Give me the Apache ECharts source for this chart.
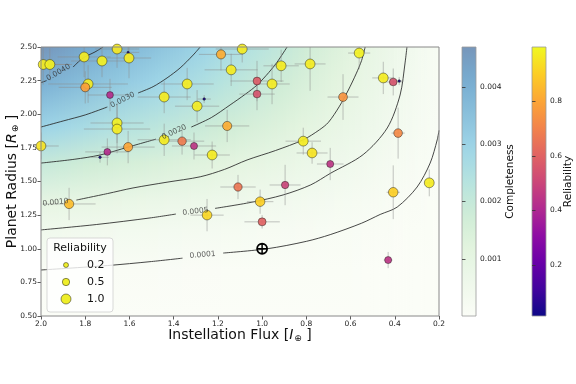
<!DOCTYPE html>
<html><head><meta charset="utf-8">
<script src="https://cdn.jsdelivr.net/npm/echarts@6/dist/echarts.min.js"></script>
<style>html,body{margin:0;padding:0;background:#fff}#c{width:576px;height:384px}</style>
</head><body><div id="c"></div>
<script>
// ---- planet data ----
const flux = [1.99,1.96,1.805,1.724,1.656,1.606,1.602,1.787,1.80,1.688,1.656,1.656,2.0,1.606,1.70,1.733,1.443,1.443,1.362,1.308,1.339,1.294,1.186,1.09,1.14,1.262,1.023,1.023,0.955,0.914,0.783,0.561,0.452,0.407,0.38,0.634,1.158,1.226,0.814,0.774,0.692,0.385,1.109,0.896,1.009,1.249,1.0,0.407,0.244,0.43,1.873];
const radius = [2.37,2.37,2.426,2.396,2.485,2.46,2.418,2.225,2.20,2.143,1.935,1.89,1.764,1.756,1.72,1.68,2.128,1.81,1.80,1.764,2.225,2.06,2.445,2.485,2.33,2.113,2.247,2.15,2.225,2.36,2.374,2.455,2.27,2.24,2.247,2.128,1.913,1.697,1.80,1.712,1.63,1.86,1.459,1.474,1.35,1.25,1.20,1.42,1.49,0.916,1.333];
const reliability = [0.97,0.98,0.97,0.98,0.96,0.02,0.97,0.97,0.78,0.42,0.98,0.97,0.95,0.80,0.42,0.03,0.97,0.97,0.68,0.45,0.97,0.97,0.82,0.97,0.97,0.03,0.58,0.55,0.97,0.97,0.97,0.98,0.97,0.55,0.03,0.75,0.82,0.97,0.97,0.95,0.45,0.72,0.66,0.50,0.90,0.92,0.60,0.90,0.97,0.45,0.86];
const fluxErr = [0.12,0.10,0.12,0.14,0.10,0.05,0.10,0.18,0.12,0.10,0.12,0.15,0.08,0.12,0.10,0.04,0.12,0.12,0.10,0.10,0.12,0.10,0.10,0.12,0.12,0.03,0.12,0.08,0.08,0.08,0.07,0.05,0.05,0.04,0.02,0.07,0.10,0.08,0.08,0.07,0.06,0.03,0.08,0.07,0.06,0.075,0.08,0.03,0.02,0.02,0.12];
const radiusErr = [0.15,0.12,0.15,0.12,0.14,0.04,0.15,0.14,0.12,0.12,0.15,0.18,0.10,0.12,0.10,0.04,0.12,0.12,0.10,0.10,0.12,0.12,0.12,0.10,0.12,0.03,0.15,0.12,0.15,0.12,0.20,0.12,0.12,0.10,0.03,0.17,0.12,0.10,0.10,0.08,0.12,0.19,0.09,0.15,0.09,0.12,0.05,0.20,0.10,0.06,0.12];
const earthPos = [[1.0, 1.0]];

// ---- completeness contours (flux, radius), split where the label sits ----
const contour0001 = [[[2.0,0.842],[1.70,0.875],[1.50,0.905],[1.36,0.93]],
  [[1.176,0.968],[0.977,1.0],[0.80,1.055],[0.692,1.105],[0.55,1.19],[0.466,1.255],[0.389,1.31],[0.299,1.459],[0.24,1.637],[0.208,1.81],[0.2,1.88]]];
const contour0005 = [[[2.0,1.14],[1.75,1.18],[1.507,1.229],[1.39,1.258]],
  [[1.213,1.30],[1.05,1.345],[0.905,1.40],[0.78,1.475],[0.692,1.56],[0.543,1.70],[0.434,1.898],[0.376,2.143],[0.353,2.388],[0.345,2.5]]];
const contour0010 = [[[1.84,1.362],[1.70,1.41],[1.584,1.452],[1.43,1.495],[1.28,1.535],[1.17,1.59],[1.068,1.66],[0.94,1.73],[0.814,1.81],[0.74,1.885],[0.70,1.94],[0.65,2.06],[0.61,2.18],[0.575,2.30],[0.55,2.40],[0.534,2.5]]];
const contour0020 = [[[2.0,1.637],[1.85,1.665],[1.733,1.697],[1.606,1.756],[1.48,1.815]],
  [[1.32,1.905],[1.23,1.975],[1.145,2.069],[1.075,2.15],[1.023,2.217],[0.97,2.31],[0.932,2.388],[0.887,2.5]]];
const contour0030 = [[[2.0,1.905],[1.90,1.95],[1.80,1.995],[1.70,2.054]],
  [[1.561,2.158],[1.493,2.205],[1.43,2.27],[1.371,2.344],[1.312,2.44],[1.28,2.5]]];
const contour0040 = [[[2.0,2.235],[1.975,2.25]],
  [[1.855,2.351],[1.81,2.418],[1.756,2.463],[1.719,2.5]]];
const contourLabelText = ['0.0001','0.0005','0.0010','0.0020','0.0030','0.0040'];
const contourLabelPos = [[1.269,0.954],[1.301,1.277],[1.934,1.344],[1.398,1.868],[1.631,2.106],[1.921,2.31]];
const contourLabelAngle = [5,7,6,24,27,30];

// ---- completeness field read along the plot edges (for background shading) ----
const bgLeftRadius = [2.5,2.235,1.905,1.637,1.345,1.14,0.842,0.5];
const bgLeftLevels = [0.0047,0.0040,0.0030,0.0020,0.0010,0.0005,0.0001,0.0];
const bgTopFlux = [2.0,1.719,1.28,0.887,0.534,0.345,0.2];
const bgTopLevels = [0.0047,0.0040,0.0030,0.0020,0.0010,0.0005,0.00016];

// ---- tick labels ----
const xTickValues = [2.0,1.8,1.6,1.4,1.2,1.0,0.8,0.6,0.4,0.2];
const yTickValues = [0.5,0.75,1.0,1.25,1.5,1.75,2.0,2.25,2.5];
const complTicks = [0.001,0.002,0.003,0.004];
const relTicks = [0.2,0.4,0.6,0.8];
const legendSizes = [0.2,0.5,1.0];
const complMax = 0.0047, relMin = 0.012, relMax = 1.0;

const FONT = 'DejaVu Sans';
const plasma = ['#0d0887','#41049d','#6a00a8','#8f0da4','#b12a90','#cc4778','#e16462','#f2844b','#fca636','#fcce25','#f0f921'];
const gnbu = [[251,253,247],[238,248,235],[227,244,223],[207,236,214],[182,227,223],[158,213,231],[138,192,219],[119,172,209],[119,150,186]];
function gnbuColor(t){
  t=Math.max(0,Math.min(1,t));const s=t*(gnbu.length-1);const i=Math.min(gnbu.length-2,Math.floor(s));const u=s-i;
  const a=gnbu[i],b=gnbu[i+1];
  return 'rgb('+Math.round(a[0]+(b[0]-a[0])*u)+','+Math.round(a[1]+(b[1]-a[1])*u)+','+Math.round(a[2]+(b[2]-a[2])*u)+')';
}
function sizeOf(rel){return 9*Math.sqrt(rel)+1;}

const chart = echarts.init(document.getElementById('c'), null, {renderer:'canvas'});

function contourSeries(segs){
  return segs.map(seg=>({type:'line',xAxisIndex:0,yAxisIndex:0,data:seg,smooth:0.3,showSymbol:false,
    lineStyle:{color:'rgba(40,40,40,0.85)',width:1},z:2,silent:true,animation:false,clip:true}));
}
const series = [].concat(
  contourSeries(contour0001),contourSeries(contour0005),contourSeries(contour0010),
  contourSeries(contour0020),contourSeries(contour0030),contourSeries(contour0040),
  [{
    type:'scatter',xAxisIndex:0,yAxisIndex:0,symbolSize:0,z:4,silent:true,animation:false,
    data:contourLabelPos.map((p,i)=>({value:p,label:{show:true,formatter:contourLabelText[i],rotate:contourLabelAngle[i],
      position:'inside',fontSize:7.5,fontFamily:FONT,color:'#333'}}))
  },{
    type:'custom',xAxisIndex:0,yAxisIndex:0,z:3,clip:true,silent:true,animation:false,
    data:flux.map((f,i)=>[f,radius[i],fluxErr[i],radiusErr[i]]),
    renderItem:function(params,api){
      const f=api.value(0),r=api.value(1),ex=api.value(2),ey=api.value(3);
      const a=api.coord([f+ex,r]),b=api.coord([f-ex,r]),c=api.coord([f,r-ey]),d=api.coord([f,r+ey]);
      const st={stroke:'rgba(140,140,140,0.5)',lineWidth:1};
      return {type:'group',children:[
        {type:'line',shape:{x1:a[0],y1:a[1],x2:b[0],y2:b[1]},style:st},
        {type:'line',shape:{x1:c[0],y1:c[1],x2:d[0],y2:d[1]},style:st}]};
    }
  },{
    id:'pts',type:'scatter',xAxisIndex:0,yAxisIndex:0,z:4,animation:false,
    data:flux.map((f,i)=>[f,radius[i],reliability[i]]),
    symbolSize:function(v){return sizeOf(v[2]);},
    itemStyle:{opacity:0.92,borderColor:'rgba(20,20,20,0.8)',borderWidth:0.6}
  },{
    type:'custom',xAxisIndex:0,yAxisIndex:0,z:5,silent:true,animation:false,data:earthPos,
    renderItem:function(params,api){
      const p=api.coord([api.value(0),api.value(1)]);const R=5;
      const st={stroke:'#000',lineWidth:1.8,fill:null};
      return {type:'group',children:[
        {type:'circle',shape:{cx:p[0],cy:p[1],r:R},style:st},
        {type:'line',shape:{x1:p[0]-R,y1:p[1],x2:p[0]+R,y2:p[1]},style:{stroke:'#000',lineWidth:1.5}},
        {type:'line',shape:{x1:p[0],y1:p[1]-R,x2:p[0],y2:p[1]+R},style:{stroke:'#000',lineWidth:1.5}}]};
    }
  }]
);

function barGradient(stops){return {type:'linear',x:0,y:0,x2:0,y2:1,colorStops:stops};}
const complStops=[];for(let i=0;i<=20;i++){complStops.push({offset:1-i/20,color:gnbuColor(i/20)});}
const relStops=plasma.map((c,i)=>({offset:1-i/(plasma.length-1),color:c}));

const tickStyle={lineStyle:{color:'#333',width:0.8},length:3.5};
const richName={a:{fontSize:14,color:'#111',fontFamily:FONT},i:{fontSize:14,color:'#111',fontStyle:'italic',fontFamily:FONT},s:{fontSize:9,color:'#111',fontFamily:FONT,padding:[6,0,0,1]}};
chart.setOption({
  animation:false,
  textStyle:{fontFamily:FONT},
  grid:[
    {left:41,top:47,width:398,height:269,show:false,containLabel:false,outerBoundsMode:'none'},
    {left:462,top:47,width:14,height:269,show:true,backgroundColor:barGradient(complStops),borderColor:'#999',borderWidth:0.8,containLabel:false,outerBoundsMode:'none'},
    {left:532,top:47,width:14,height:269,show:true,backgroundColor:barGradient(relStops),borderColor:'#999',borderWidth:0.8,containLabel:false,outerBoundsMode:'none'}
  ],
  xAxis:[
    {type:'value',gridIndex:0,min:0.2,max:2.0,inverse:true,interval:0.2,
     axisLine:{show:false},splitLine:{show:false},
     axisTick:Object.assign({customValues:xTickValues},tickStyle),
     axisLabel:{customValues:xTickValues,formatter:v=>v.toFixed(1),fontSize:7.5,color:'#222',margin:4},
     name:'{a|Instellation Flux [}{i|I}{s|⊕}{a| ]}',nameLocation:'middle',nameGap:12,nameMoveOverlap:false,
     nameTextStyle:{rich:richName}},
    {type:'value',gridIndex:1,show:false,min:0,max:1},
    {type:'value',gridIndex:2,show:false,min:0,max:1}
  ],
  yAxis:[
    {type:'value',gridIndex:0,min:0.5,max:2.5,interval:0.25,
     axisLine:{show:false},splitLine:{show:false},
     axisTick:Object.assign({customValues:yTickValues},tickStyle),
     axisLabel:{customValues:yTickValues,formatter:v=>v.toFixed(2),fontSize:7.5,color:'#222',margin:4},
     name:'{a|Planet Radius [}{i|R}{s|⊕}{a| ]}',nameLocation:'middle',nameGap:21,nameRotate:90,nameMoveOverlap:false,
     nameTextStyle:{rich:richName}},
    {type:'value',gridIndex:1,position:'right',min:0,max:complMax,
     axisLine:{show:false},splitLine:{show:false},
     axisTick:Object.assign({customValues:complTicks},tickStyle),
     axisLabel:{customValues:complTicks,formatter:v=>v.toFixed(3),fontSize:7.5,color:'#222',margin:4},
     name:'Completeness',nameLocation:'middle',nameGap:29,nameRotate:90,nameMoveOverlap:false,nameTextStyle:{fontSize:10.5,color:'#111'}},
    {type:'value',gridIndex:2,position:'right',min:relMin,max:relMax,
     axisLine:{show:false},splitLine:{show:false},
     axisTick:Object.assign({customValues:relTicks},tickStyle),
     axisLabel:{customValues:relTicks,formatter:v=>v.toFixed(1),fontSize:7.5,color:'#222',margin:4},
     name:'Reliability',nameLocation:'middle',nameGap:17,nameRotate:90,nameMoveOverlap:false,nameTextStyle:{fontSize:10.5,color:'#111'}}
  ],
  visualMap:[{type:'continuous',show:false,seriesId:'pts',dimension:2,min:relMin,max:relMax,inRange:{color:plasma}}],
  series:series
});

// ---- background shading, frame and size legend ----
function interp(xs,ys,x){
  for(let i=0;i<xs.length-1;i++){const a=xs[i],b=xs[i+1];
    if((x<=a&&x>=b)||(x>=a&&x<=b)){const t=(x-a)/(b-a);return ys[i]+(ys[i+1]-ys[i])*t;}}
  return ys[ys.length-1];
}
const tl=chart.convertToPixel({gridIndex:0},[2.0,2.5]);
const br=chart.convertToPixel({gridIndex:0},[0.2,0.5]);
const gx=tl[0],gy=tl[1],gw=br[0]-tl[0],gh=br[1]-tl[1];
const offs=bgLeftRadius.map(r=>(chart.convertToPixel({gridIndex:0},[1,r])[1]-gy)/gh);
const graphics=[];
const N=133;
for(let k=0;k<N;k++){
  const x0=gx+gw*k/N,x1=gx+gw*(k+1)/N;
  const f=chart.convertFromPixel({gridIndex:0},[(x0+x1)/2,gy])[0];
  const h=interp(bgTopFlux,bgTopLevels,f)/bgTopLevels[0];
  const stops=bgLeftLevels.map((lv,j)=>({offset:Math.max(0,Math.min(1,offs[j])),color:gnbuColor(lv*h/complMax)}));
  graphics.push({type:'rect',z:0,silent:true,shape:{x:x0,y:gy,width:Math.min(x1-x0+0.8,gx+gw-x0),height:gh},
    style:{fill:{type:'linear',x:0,y:0,x2:0,y2:1,colorStops:stops},stroke:null}});
}
graphics.push({type:'rect',z:10,silent:true,shape:{x:gx,y:gy,width:gw,height:gh},style:{fill:null,stroke:'#888',lineWidth:1}});
// legend
graphics.push({type:'rect',z:12,silent:true,shape:{x:47,y:238,width:66,height:74,r:3},style:{fill:'rgba(255,255,255,0.8)',stroke:'#cfcfcf',lineWidth:0.8}});
graphics.push({type:'text',z:13,silent:true,style:{x:80,y:248,text:'Reliability',font:'11px "DejaVu Sans"',fill:'#111',align:'center',verticalAlign:'middle'}});
legendSizes.forEach((s,i)=>{
  const y=265+i*17;
  graphics.push({type:'circle',z:13,silent:true,shape:{cx:66,cy:y,r:sizeOf(s)/2},style:{fill:'#eeee2a',stroke:'rgba(20,20,20,0.8)',lineWidth:0.6}});
  graphics.push({type:'text',z:13,silent:true,style:{x:87,y:y,text:s.toFixed(1),font:'11px "DejaVu Sans"',fill:'#111',align:'left',verticalAlign:'middle'}});
});
chart.setOption({graphic:graphics});
</script></body></html>
